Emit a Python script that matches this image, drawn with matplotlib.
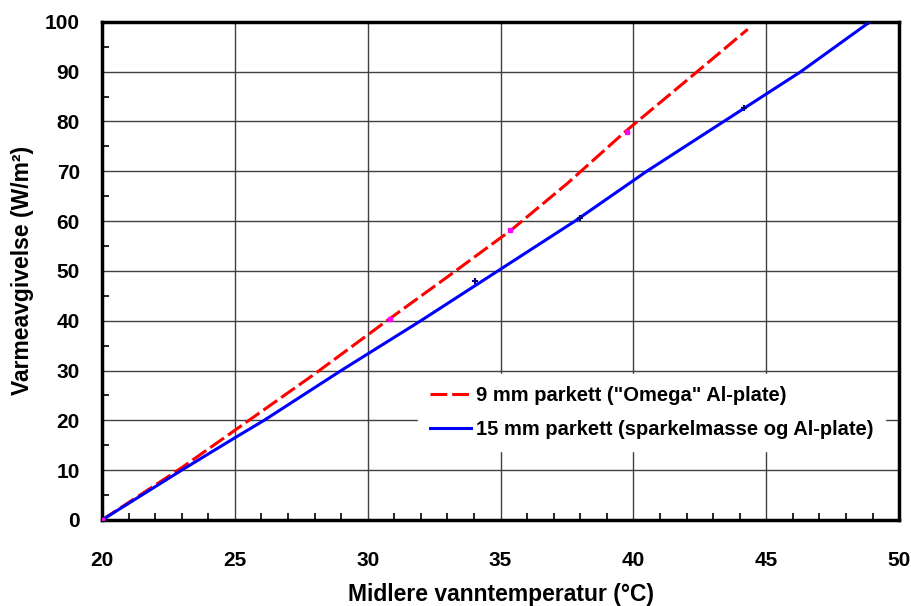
import matplotlib
matplotlib.use("Agg")
import matplotlib.pyplot as plt
from matplotlib.ticker import MultipleLocator

# data
# 9 mm parkett ("Omega" Al-plate)
redX = [20, 23, 25, 28, 30.8, 33, 35.4, 37.5, 39.7, 42.4, 44.3]
redY = [0, 10.5, 18, 29.3, 40.3, 48.8, 58.2, 67.5, 78, 90, 98.5]
redMarkX = [20, 30.84, 35.36, 39.74]
redMarkY = [0, 40.3, 58.2, 77.8]

# 15 mm parkett (sparkelmasse og Al-plate)
blueX = [20, 23, 25, 26.1, 29, 32, 34.9, 37.8, 40.5, 43.4, 46.3, 48.9]
blueY = [0, 10, 16.5, 20, 30, 40, 50, 60, 70, 80, 90, 100]
blueMarkX = [34.04, 37.99, 44.16, 48.84]
blueMarkY = [47.9, 60.6, 82.7, 100]

labels = ['9 mm parkett ("Omega" Al-plate)', '15 mm parkett (sparkelmasse og Al-plate)']

plt.rcParams['font.family'] = ['Liberation Sans', 'DejaVu Sans']
plt.rcParams['font.weight'] = 'bold'

fig = plt.figure(figsize=(9.11, 6.06), dpi=100)
ax = fig.add_axes([0.112, 0.142, 0.875, 0.822])

red, = ax.plot(redX, redY, color="#ff0000", lw=2.2, label=labels[0], zorder=3)
red.set_dashes([5.5, 1.6])
ax.plot(redMarkX, redMarkY, "s", color="#ff00ff", ms=3.5, zorder=4)
ax.plot(blueX, blueY, color="#0000ff", lw=2.2, label=labels[1], zorder=3)
ax.plot(blueMarkX, blueMarkY, "+", color="#000080", ms=4, mew=1.5, zorder=4)

ax.set_xlim(20, 50)
ax.set_ylim(0, 100)
ax.xaxis.set_major_locator(MultipleLocator(5))
ax.xaxis.set_minor_locator(MultipleLocator(1))
ax.yaxis.set_major_locator(MultipleLocator(10))
ax.yaxis.set_minor_locator(MultipleLocator(5))
ax.grid(True, which="major", color="#404040", lw=1)
ax.tick_params(which="both", direction="in")
ax.tick_params(axis="x", which="major", length=0, pad=22)
ax.tick_params(axis="y", which="major", length=0, pad=16)
ax.tick_params(which="minor", length=5, width=1.2)
for s in ax.spines.values():
    s.set_linewidth(2.5)

for t in ax.get_xticklabels() + ax.get_yticklabels():
    t.set_fontsize(15)
    t.set_fontweight("bold")

ax.set_xlabel("Midlere vanntemperatur (°C)", fontsize=16.5, fontweight="bold", labelpad=10)
ax.set_ylabel("Varmeavgivelse (W/m²)", fontsize=16.5, fontweight="bold", labelpad=8)

leg = ax.legend(loc="center left", bbox_to_anchor=(0.384, 0.216), frameon=True, fancybox=False,
                edgecolor="white", framealpha=1, fontsize=14.5, handlelength=2.0,
                handletextpad=0.25, labelspacing=0.75, borderpad=0.6)
for t in leg.get_texts():
    t.set_fontweight("bold")

fig.savefig("out.png", dpi=100)
